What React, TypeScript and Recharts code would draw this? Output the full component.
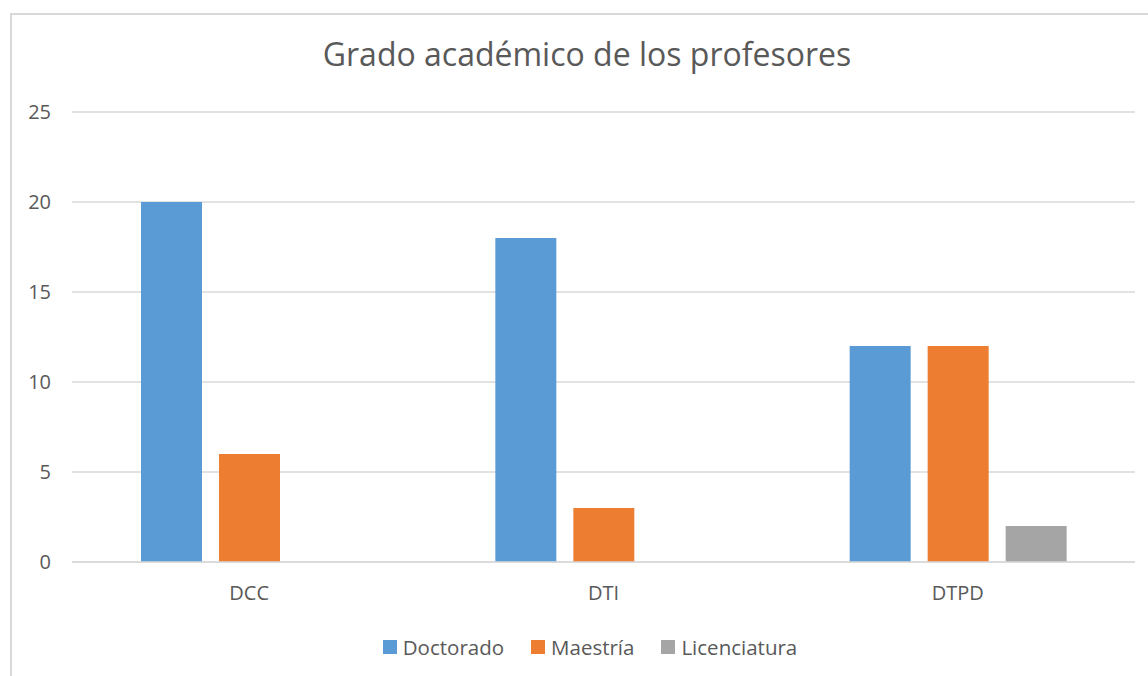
import React from "react"
import { BarChart, Bar, XAxis, YAxis, CartesianGrid } from "recharts"

// departments
const departamentos = ["DCC", "DTI", "DTPD"]
// professors per degree
const doctorado = [20, 18, 12]
const maestria = [6, 3, 12]
const licenciatura = [0, 0, 2]
const yTicks = [0, 5, 10, 15, 20, 25]

const series = [
  { key: "Doctorado", color: "#5B9BD5" },
  { key: "Maestría", color: "#ED7D31" },
  { key: "Licenciatura", color: "#A5A5A5" },
]

const data = departamentos.map((d, i) => ({
  name: d,
  Doctorado: doctorado[i],
  Maestría: maestria[i],
  Licenciatura: licenciatura[i],
}))

const FONT = "'Open Sans', 'DejaVu Sans', sans-serif"
const TEXT = "#595959"

function CustomLegend() {
  return (
    <div style={{ display: "flex", justifyContent: "center", alignItems: "center", gap: 27 }}>
      {series.map((s) => (
        <div key={s.key} style={{ display: "flex", alignItems: "center" }}>
          <span style={{ width: 14, height: 14, background: s.color, display: "inline-block", marginRight: 6 }} />
          <span style={{ fontFamily: FONT, fontSize: 20.5, color: TEXT, lineHeight: "28px" }}>{s.key}</span>
        </div>
      ))}
    </div>
  )
}

export default function App() {
  return (
    <div style={{ position: "absolute", left: 0, top: 0, width: 1148, height: 676, overflow: "hidden", background: "#fff" }}>
      <div
        style={{
          position: "absolute",
          left: 10,
          top: 13,
          width: 1160,
          height: 700,
          borderTop: "2px solid #d9d9d9",
          borderLeft: "2px solid #d9d9d9",
        }}
      />
      <div
        style={{
          position: "absolute",
          left: 0,
          top: 32,
          width: 1174,
          textAlign: "center",
          fontFamily: FONT,
          fontSize: 32,
          color: TEXT,
        }}
      >
        Grado académico de los profesores
      </div>
      <div style={{ position: "absolute", left: 0, top: 0 }}>
        <BarChart
          width={1148}
          height={676}
          data={data}
          margin={{ top: 112, right: 13, bottom: 84, left: 0 }}
          barSize={61}
          barGap={17}
        >
          <CartesianGrid vertical={false} stroke="#d9d9d9" strokeWidth={1.5} />
          <XAxis
            dataKey="name"
            height={30}
            axisLine={{ stroke: "#d9d9d9", strokeWidth: 1.5 }}
            tickLine={false}
            tickSize={0}
            tickMargin={24}
            tick={{ fill: TEXT, fontSize: 20, fontFamily: FONT }}
          />
          <YAxis
            width={72}
            domain={[0, 25]}
            ticks={yTicks}
            axisLine={false}
            tickLine={false}
            tickSize={0}
            tickMargin={21}
            tick={{ fill: TEXT, fontSize: 20, fontFamily: FONT }}
          />
          {series.map((s) => (
            <Bar key={s.key} dataKey={s.key} fill={s.color} isAnimationActive={false} />
          ))}
        </BarChart>
      </div>
      <div style={{ position: "absolute", top: 633, left: 0, width: 1180 }}>
        <CustomLegend />
      </div>
    </div>
  )
}
